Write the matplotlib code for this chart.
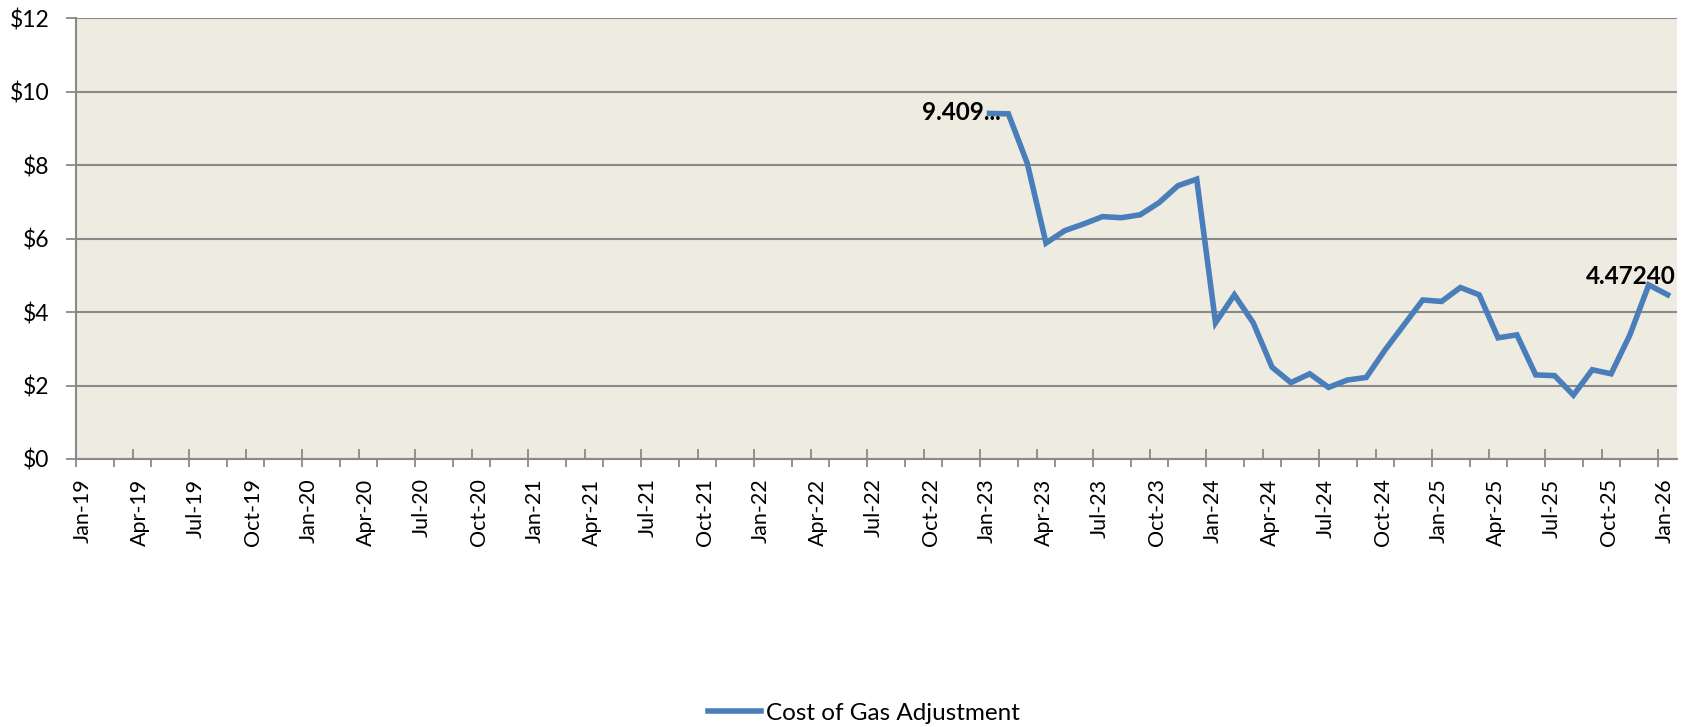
import matplotlib
matplotlib.use("Agg")
import matplotlib.pyplot as plt
import matplotlib.transforms as mtransforms
import pandas as pd
import numpy as np

# ---- data ----
axis_start = "2019-01"
axis_end = "2026-01"
series_name = "Cost of Gas Adjustment"
series_start = "2023-01"
series_values = [9.409, 9.40, 8.06, 5.88, 6.22, 6.40, 6.60, 6.57, 6.65, 6.98, 7.44, 7.62,
                 3.71, 4.47, 3.71, 2.50, 2.08, 2.32, 1.95, 2.15, 2.22, 2.97, 3.65, 4.33,
                 4.29, 4.67, 4.47, 3.30, 3.38, 2.29, 2.27, 1.74, 2.43, 2.32, 3.38, 4.74,
                 4.4724]
first_label = "9.409..."
last_label = "4.47240"
y_ticks = [0, 2, 4, 6, 8, 10, 12]

# ---- styling ----
plt.rcParams['font.family'] = ['Lato', 'DejaVu Sans']
W, H, DPI = 1688, 727, 100
fig = plt.figure(figsize=(W / DPI, H / DPI), dpi=DPI)
ax = fig.add_axes([76 / W, 1 - 459 / H, (1677 - 76) / W, (459 - 18.3) / H])

bg = "#EEEBE1"
grid_c = "#898989"
line_c = "#4A7EBB"
ax.set_facecolor(bg)

start = pd.Period(axis_start, freq="M")
end = pd.Period(axis_end, freq="M")
n_months = (end - start).n
periods = pd.period_range(series_start, periods=len(series_values), freq="M")
xs = np.array([(p - start).n for p in periods]) + 0.5

ax.plot(xs, series_values, color=line_c, lw=4.0, solid_joinstyle="miter",
        label=series_name, zorder=3)

ax.set_xlim(0, n_months + 1)
ax.set_ylim(0, 12)

# y axis
ax.set_yticks(y_ticks)
ax.set_yticklabels([f"${v}" for v in y_ticks])
ax.yaxis.grid(True, color=grid_c, lw=1.5)
ax.set_axisbelow(True)
ax.tick_params(axis="y", direction="out", length=7, width=1.3, color=grid_c,
               labelsize=16.5, pad=12)

# x axis
major = list(range(0, n_months + 1, 3))
minor = list(range(0, n_months + 1, 2))
ax.set_xticks(major)
ax.set_xticks(minor, minor=True)
ax.xaxis.remove_overlapping_locs = False
ax.set_xticklabels([(start + m).strftime("%b-%y") for m in major], rotation=90,
                   ha="center", va="top")
ax.tick_params(axis="x", which="major", direction="in", length=7, width=1.3,
               color=grid_c, labelsize=15.5, pad=14)
ax.tick_params(axis="x", which="minor", direction="out", length=6, width=1.3,
               color=grid_c)
offset = mtransforms.ScaledTranslation(7 / DPI, 0, fig.dpi_scale_trans)
for lbl in ax.get_xticklabels():
    lbl.set_transform(lbl.get_transform() + offset)

for s in ["top", "right"]:
    ax.spines[s].set_visible(False)
for s in ["left", "bottom"]:
    ax.spines[s].set_color(grid_c)
    ax.spines[s].set_linewidth(1.5)

# data labels
ax.annotate(first_label, (xs[0], series_values[0]), xytext=(8, 1),
            textcoords="offset points", ha="right", va="center",
            fontsize=17.5, fontweight="bold", zorder=4)
ax.annotate(last_label, (xs[-1], series_values[-1]), xytext=(6, 13),
            textcoords="offset points", ha="right", va="center",
            fontsize=17.5, fontweight="bold", zorder=4)

leg = fig.legend(loc="center", bbox_to_anchor=(864 / W, 1 - 713 / H), frameon=False,
                 fontsize=17.5, handlelength=2.2, handletextpad=0.2)

fig.savefig("out.png", dpi=DPI)
